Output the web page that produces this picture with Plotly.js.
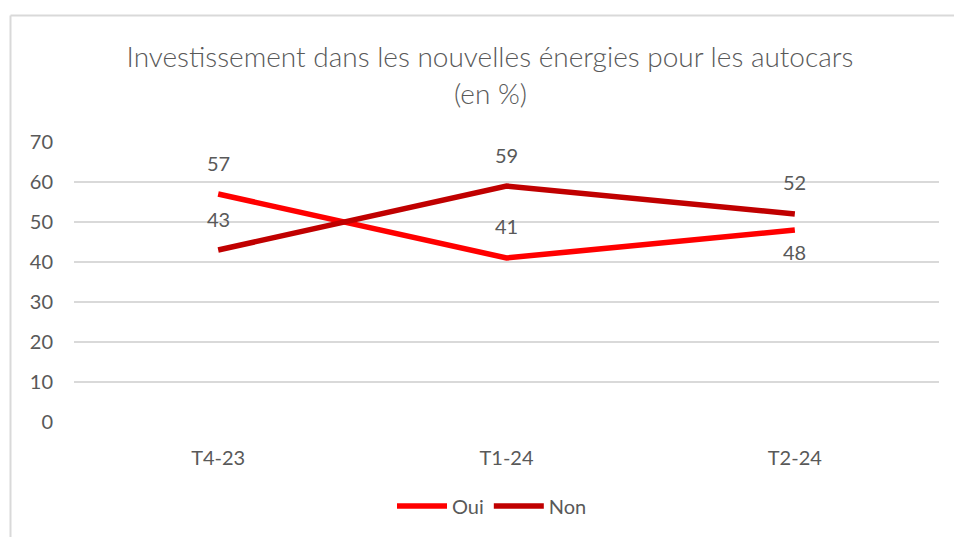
<!DOCTYPE html>
<html>
<head>
<meta charset="utf-8">
<script src="https://cdn.plot.ly/plotly-3.0.1.min.js"></script>
<style>html,body{margin:0;padding:0;background:#fff;}#chart{width:954px;height:537px;}</style>
</head>
<body>
<div id="chart"></div>
<script>
var categories = ["T4-23", "T1-24", "T2-24"];
var ouiValues = [57, 41, 48];
var nonValues = [43, 59, 52];
var seriesNames = ["Oui", "Non"];
var titleLine1 = "Investissement dans les nouvelles énergies pour les autocars";
var titleLine2 = "(en %)";

// styling for data labels (above = positive shift, below = negative)
var ouiLabelShift = [31, 32, -22];
var nonLabelShift = [31, 31, 32];

var FONT = "Lato, 'Open Sans', sans-serif";
var GREY = "#595959";

var W = 954, H = 537;
var mL = 74, mR = 15, mT = 142, mB = 115;
var pw = W - mL - mR, ph = H - mT - mB;
function px(x){ return (x - mL) / pw; }
function py(y){ return (H - mB - y) / ph; }

var traces = [
  {x: categories, y: ouiValues, name: seriesNames[0], type: "scatter", mode: "lines",
   line: {color: "#FF0000", width: 5.5}, hoverinfo: "x+y"},
  {x: categories, y: nonValues, name: seriesNames[1], type: "scatter", mode: "lines",
   line: {color: "#C00000", width: 5.5}, hoverinfo: "x+y"}
];

var annotations = [];
function addLabels(vals, shifts){
  for (var i = 0; i < vals.length; i++){
    annotations.push({x: categories[i], y: vals[i], xref: "x", yref: "y", text: String(vals[i]),
      showarrow: false, yshift: shifts[i], xanchor: "center", yanchor: "middle",
      font: {family: FONT, size: 20, color: GREY}});
  }
}
addLabels(ouiValues, ouiLabelShift);
addLabels(nonValues, nonLabelShift);
annotations.push({xref: "paper", yref: "paper", x: px(490), y: py(93), text: titleLine2,
  showarrow: false, xanchor: "center", yanchor: "middle",
  font: {family: FONT, size: 28, color: GREY, weight: 300}});

var layout = {
  width: W, height: H,
  margin: {l: mL, r: mR, t: mT, b: mB, pad: 0},
  paper_bgcolor: "#fff", plot_bgcolor: "#fff",
  title: {text: titleLine1, xref: "container", yref: "container", x: 490 / W, y: 1 - 57 / H,
    xanchor: "center", yanchor: "middle", font: {family: FONT, size: 28, color: GREY, weight: 300}},
  xaxis: {type: "category", range: [-0.5, 2.5], showgrid: false, zeroline: false, showline: false,
    ticks: "", ticklabelstandoff: 22, tickfont: {family: FONT, size: 20, color: GREY}, fixedrange: true},
  yaxis: {range: [0, 70], dtick: 10, tick0: 0, showgrid: true, gridcolor: "#D9D9D9", gridwidth: 2,
    zeroline: false, showline: false, ticks: "", ticklabelstandoff: 20,
    tickfont: {family: FONT, size: 20, color: GREY}, fixedrange: true},
  showlegend: true,
  legend: {orientation: "h", x: px(492), xanchor: "center", y: py(506), yanchor: "middle",
    font: {family: FONT, size: 20, color: GREY}, itemwidth: 50, traceorder: "normal", bgcolor: "rgba(0,0,0,0)"},
  annotations: annotations,
  shapes: [
    {type: "line", xref: "paper", yref: "paper", x0: px(10.5), x1: px(10.5), y0: py(15.5), y1: py(540),
     line: {color: "#D9D9D9", width: 2}, layer: "below"},
    {type: "line", xref: "paper", yref: "paper", x0: px(10.5), x1: px(960), y0: py(15.5), y1: py(15.5),
     line: {color: "#D9D9D9", width: 2}, layer: "below"}
  ]
};

Plotly.newPlot("chart", traces, layout, {displayModeBar: false, staticPlot: true});
</script>
</body>
</html>
